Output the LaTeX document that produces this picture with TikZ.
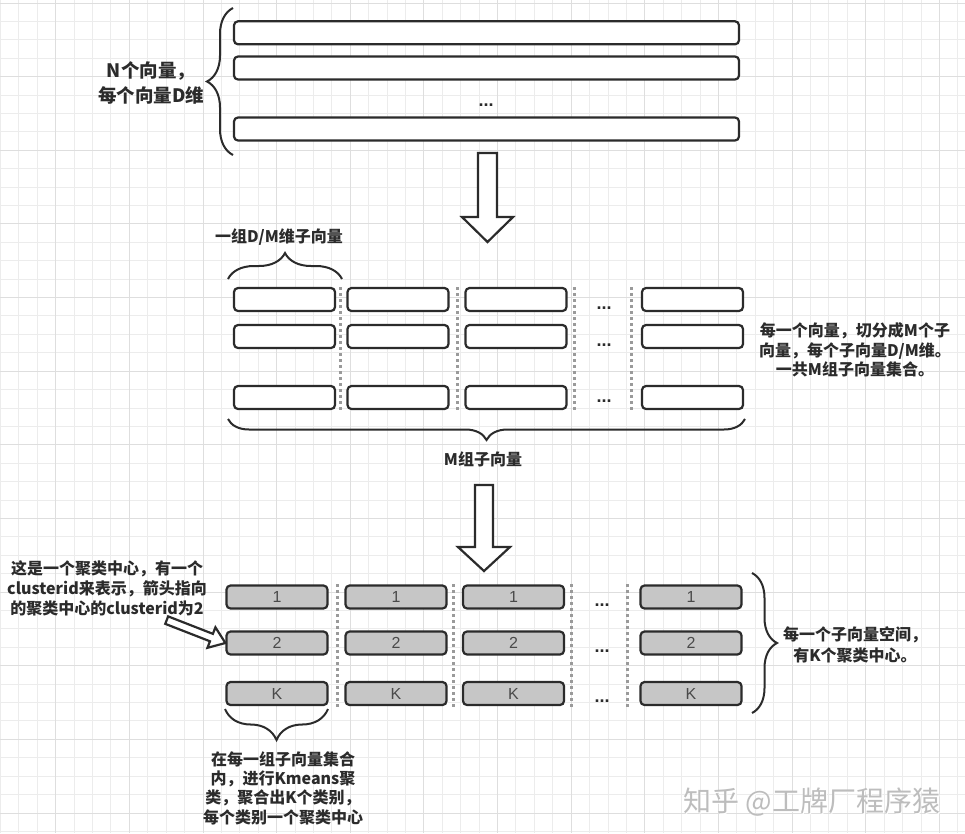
\documentclass[tikz,border=0pt]{standalone}
\usepackage{fontspec}
\setmainfont{Noto Sans CJK SC}
\newfontfamily\latinfont{Liberation Sans}
\usetikzlibrary{decorations.pathreplacing}

\definecolor{ink}{HTML}{2B2B2B}
\definecolor{gridminor}{HTML}{ECECEC}
\definecolor{gridmajor}{HTML}{DEDEDE}
\definecolor{cellgray}{HTML}{C6C6C6}
\definecolor{sepgray}{HTML}{9A9A9A}
\definecolor{labelgray}{HTML}{4A4A4A}
\definecolor{wmgray}{HTML}{BDBDBD}

\tikzset{
  vecbox/.style={draw=ink, line width=2.2pt, rounded corners=4pt, fill=white,
                 minimum height=23pt, inner sep=0pt},
  subbox/.style={vecbox, minimum width=101pt},
  centbox/.style={subbox, fill=cellgray, text=labelgray,
                  font=\latinfont\fontsize{16}{16}\selectfont},
  sepline/.style={draw=sepgray, line width=3pt, dash pattern=on 3pt off 3pt},
  bracestyle/.style={draw=ink, line width=2pt, decorate,
                     decoration={brace, amplitude=#1}},
  note/.style={font=\bfseries\fontsize{16}{20}\selectfont, text=ink,
               align=center, inner sep=0pt},
  ellip/.style={font=\latinfont\bfseries\fontsize{18}{18}\selectfont, text=ink,
                anchor=base, inner sep=0pt},
  blockarrow/.style={draw=ink, line width=2.2pt, fill=white, line join=miter},
}

\begin{document}
\begin{tikzpicture}[x=1pt, y=-1pt]
\useasboundingbox (0,0) rectangle (965,833);
\fill[white] (0,0) rectangle (965,833);

% background grid, lines snapped to whole points so they all look alike
\foreach \k in {0,...,52}
  \draw[gridminor, line width=1pt] ({round(\k*18.41)},0) -- ({round(\k*18.41)},833);
\foreach \k in {0,...,45}
  \draw[gridminor, line width=1pt] (0,{round(2.5+\k*18.41)}) -- (965,{round(2.5+\k*18.41)});
\foreach \k in {3,7,...,51}
  \draw[gridmajor, line width=1pt] ({round(\k*18.41)},0) -- ({round(\k*18.41)},833);
\foreach \k in {0,4,...,44}
  \draw[gridmajor, line width=1pt] (0,{round(2.5+\k*18.41)}) -- (965,{round(2.5+\k*18.41)});

% ---- N full vectors ----
\node[vecbox, minimum width=505pt] (n1) at (486.5,32.8) {};
\node[vecbox, minimum width=505pt] (n2) at (486.5,68) {};
\node[vecbox, minimum width=505pt] (n3) at (486.5,129) {};
\node[ellip] (ndots) at (486,106.5) {...};
\draw[bracestyle=26pt] (233,155) -- (233,8);
\node[note, font=\bfseries\fontsize{18.5}{25}\selectfont] (ntext) at (151,82.5)
  {N个向量，\\每个向量D维};

% step arrow
\draw[blockarrow] (478,153) -- (497,153) -- (497,217) -- (513,217)
  -- (487.5,242) -- (462,217) -- (478,217) -- cycle;

% ---- M groups of sub-vectors ----
\foreach \c/\x in {1/284.5, 2/398, 3/516, 5/692.5}
  \foreach \r/\y in {1/299.5, 2/336.5, 3/397.5}
    \node[subbox] (m\r\c) at (\x,\y) {};
\foreach \x in {340,457,574,631}
  \draw[sepline] (\x,287) -- (\x,411);
\foreach \r/\y in {1/309, 2/346, 3/402}
  \node[ellip] (mdots\r) at (604,\y) {...};
\draw[bracestyle=26pt] (228,279) -- (342,279);
\node[note] (grp) at (279,237) {一组D/M维子向量};
\draw[bracestyle=21pt] (745,419) -- (228,419);
\node[note] (mgrp) at (483,459) {M组子向量};
\node[note, font=\bfseries\fontsize{16}{19.5}\selectfont] (split) at (855,350)
  {每一个向量，切分成M个子\\向量，每个子向量D/M维。\\一共M组子向量集合。};

% step arrow
\draw[blockarrow] (475,485) -- (493,485) -- (493,547) -- (510,547)
  -- (484,571) -- (458,547) -- (475,547) -- cycle;

% ---- cluster centres per sub-space ----
\foreach \c/\x in {1/277, 2/396, 3/513.5, 5/691}
  \foreach \r/\y/\t in {1/597/1, 2/643/2, 3/693.5/K}
    \node[centbox] (b\r\c) at (\x,\y) {\t};
\foreach \x in {337,453,571,627}
  \draw[sepline] (\x,584) -- (\x,707);
\foreach \r/\y in {1/606, 2/652, 3/702}
  \node[ellip] (bdots\r) at (602,\y) {...};
\draw[bracestyle=25pt] (752,573) -- (752,713);
\node[note, font=\bfseries\fontsize{16}{21}\selectfont] (kc) at (855,644.5)
  {每一个子向量空间，\\有K个聚类中心。};
\draw[bracestyle=31pt] (328,709) -- (225,709);
\node[note, font=\bfseries\fontsize{16}{19.3}\selectfont] (km) at (283,788)
  {在每一组子向量集合\\内，进行Kmeans聚\\类，聚合出K个类别，\\每个类别一个聚类中心};
\node[note] (cid) at (107,588)
  {这是一个聚类中心，有一个\\clusterid来表示，箭头指向\\的聚类中心的clusterid为2};

% pointer to centre 2
\begin{scope}[shift={(b21.west)}, rotate=-21.3]
  \draw[blockarrow] (0,0) -- (-15,-11) -- (-15,-4) -- (-63,-4)
    -- (-63,4) -- (-15,4) -- (-15,11) -- cycle;
\end{scope}

% signature
\node[text=white, font=\fontsize{28}{28}\selectfont] at (812.8,802.8) {知乎 @工牌厂程序猿};
\node[text=wmgray, font=\fontsize{28}{28}\selectfont] (wm) at (812,802) {知乎 @工牌厂程序猿};
\end{tikzpicture}
\end{document}
